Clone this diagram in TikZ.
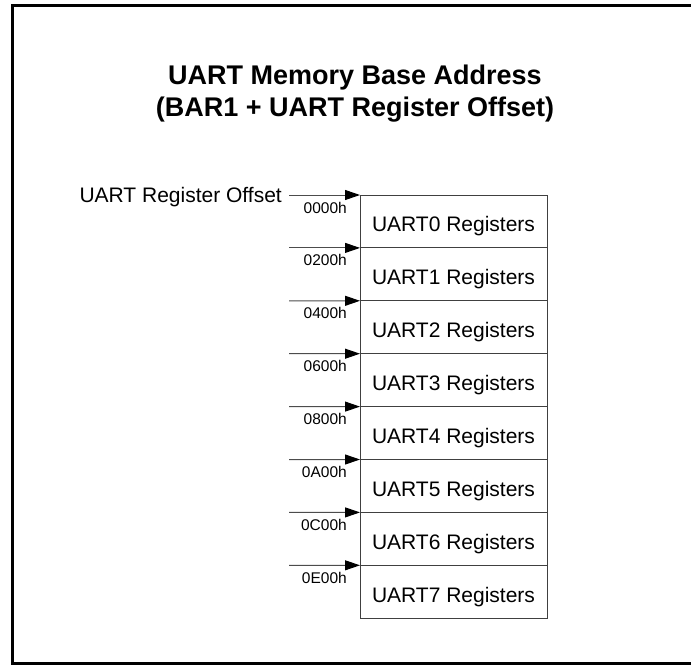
\documentclass[tikz,border=0pt]{standalone}
\usepackage{fontspec}
\setmainfont{Liberation Sans}
\usetikzlibrary{positioning}
\usetikzlibrary{arrows.meta}

\tikzset{
  regbox/.style={draw=black!75,line width=1pt,outer sep=0pt,minimum width=187pt,minimum height=52.9pt,
    text height=25pt,text depth=4.4pt,inner sep=0pt,font=\fontsize{21}{25}\selectfont},
  offlabel/.style={anchor=base east,inner sep=0pt,font=\fontsize{15.5}{18}\selectfont},
  offarrow/.style={draw=black!70,line width=1pt,-{Triangle[length=15pt,width=10pt,color=black]}}
}

\begin{document}
\begin{tikzpicture}[x=1pt,y=-1pt]
\useasboundingbox (0,0) rectangle (691,665);
\draw[line width=3pt] (700,5.5) -- (12.5,5.5) -- (12.5,663.5) -- (700,663.5);

\node[font=\bfseries\fontsize{27}{32}\selectfont,align=center,inner sep=0pt] (title) at (355,94) {UART Memory Base Address\\(BAR1 + UART Register Offset)};

% register blocks
\node[regbox] (u0) at (453.5,221.45) {UART0 Registers};
\node[regbox,below=0pt of u0] (u1) {UART1 Registers};
\node[regbox,below=0pt of u1] (u2) {UART2 Registers};
\node[regbox,below=0pt of u2] (u3) {UART3 Registers};
\node[regbox,below=0pt of u3] (u4) {UART4 Registers};
\node[regbox,below=0pt of u4] (u5) {UART5 Registers};
\node[regbox,below=0pt of u5] (u6) {UART6 Registers};
\node[regbox,below=0pt of u6] (u7) {UART7 Registers};

% offsets
\node[anchor=base east,inner sep=0pt,font=\fontsize{21}{25}\selectfont] (offset) at (282,202) {UART Register Offset};
\coordinate (o0) at (289,195);
\coordinate (o1) at (289,247.9);
\coordinate (o2) at (289,300.8);
\coordinate (o3) at (289,353.7);
\coordinate (o4) at (289,406.6);
\coordinate (o5) at (289,459.5);
\coordinate (o6) at (289,512.4);
\coordinate (o7) at (289,565.3);
\draw[offarrow] (o0) -- (u0.north west);
\draw[offarrow] (o1) -- (u1.north west);
\draw[offarrow] (o2) -- (u2.north west);
\draw[offarrow] (o3) -- (u3.north west);
\draw[offarrow] (o4) -- (u4.north west);
\draw[offarrow] (o5) -- (u5.north west);
\draw[offarrow] (o6) -- (u6.north west);
\draw[offarrow] (o7) -- (u7.north west);
\node[offlabel] (a0) at (347,213) {0000h};
\node[offlabel] (a1) at (347,265.9) {0200h};
\node[offlabel] (a2) at (347,318.8) {0400h};
\node[offlabel] (a3) at (347,371.7) {0600h};
\node[offlabel] (a4) at (347,424.6) {0800h};
\node[offlabel] (a5) at (347,477.5) {0A00h};
\node[offlabel] (a6) at (347,530.4) {0C00h};
\node[offlabel] (a7) at (347,583.3) {0E00h};

\end{tikzpicture}
\end{document}
